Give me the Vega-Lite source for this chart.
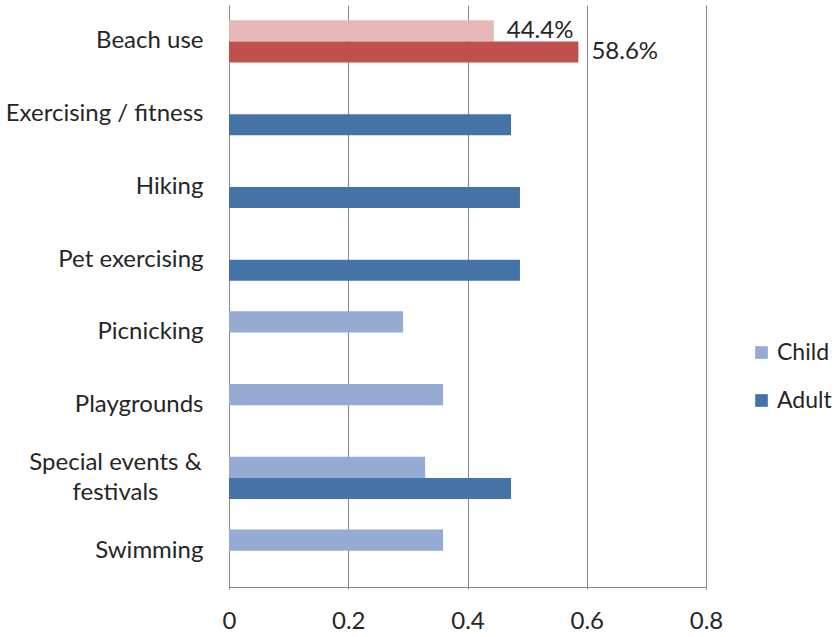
{
  "$schema": "https://vega.github.io/schema/vega-lite/v6.json",
  "autosize": "none",
  "width": 477,
  "height": 582,
  "padding": {"left": 229, "top": 5, "right": 133, "bottom": 50},
  "background": "white",
  "config": {
    "font": "Lato",
    "view": {"stroke": null}
  },
  "data": {
    "values": [
      {"activity": "Beach use", "group": "Child", "series": "Beach Child", "value": 0.444},
      {"activity": "Beach use", "group": "Adult", "series": "Beach Adult", "value": 0.586},
      {"activity": "Exercising / fitness", "group": "Adult", "series": "Adult", "value": 0.473},
      {"activity": "Hiking", "group": "Adult", "series": "Adult", "value": 0.488},
      {"activity": "Pet exercising", "group": "Adult", "series": "Adult", "value": 0.488},
      {"activity": "Picnicking", "group": "Child", "series": "Child", "value": 0.292},
      {"activity": "Playgrounds", "group": "Child", "series": "Child", "value": 0.359},
      {"activity": "Special events & festivals", "group": "Child", "series": "Child", "value": 0.329},
      {"activity": "Special events & festivals", "group": "Adult", "series": "Adult", "value": 0.473},
      {"activity": "Swimming", "group": "Child", "series": "Child", "value": 0.359}
    ]
  },
  "encoding": {
    "y": {
      "field": "activity",
      "type": "nominal",
      "sort": null,
      "title": null,
      "scale": {"paddingInner": 0.42, "paddingOuter": 0.21},
      "axis": {
        "domainColor": "#868686",
        "ticks": false,
        "labelFontSize": 24,
        "labelColor": "#262626",
        "labelLineHeight": 30,
        "labelAlign": {"condition": {"test": "datum.value == 'Special events & festivals'", "value": "center"}, "value": "right"},
        "labelPadding": {"condition": {"test": "datum.value == 'Special events & festivals'", "value": 114}, "value": 26},
        "labelOffset": {"condition": {"test": "datum.value == 'Special events & festivals'", "value": -15}, "value": 0},
        "labelExpr": "datum.value == 'Special events & festivals' ? ['Special events &', 'festivals'] : datum.label",
        "labelLimit": 300
      }
    },
    "yOffset": {"field": "group", "type": "nominal", "scale": {"domain": ["Child", "Adult"], "paddingInner": 0}},
    "x": {
      "field": "value",
      "type": "quantitative",
      "title": null,
      "scale": {"domain": [0, 0.8], "nice": false},
      "axis": {
        "values": [0, 0.2, 0.4, 0.6, 0.8],
        "labelExpr": "datum.value == 0 ? '0' : format(datum.value, '.1f')",
        "labelFlush": false,
        "grid": true,
        "gridColor": "#868686",
        "domainColor": "#868686",
        "tickColor": "#868686",
        "tickSize": 2,
        "labelFontSize": 24,
        "labelColor": "#262626",
        "labelPadding": 20
      }
    }
  },
  "layer": [
    {
      "mark": {"type": "bar"},
      "encoding": {
        "color": {
          "field": "series",
          "type": "nominal",
          "scale": {"domain": ["Child", "Adult", "Beach Child", "Beach Adult"], "range": ["#95ABD3", "#4573A8", "#E6B9B8", "#C0504D"]},
          "legend": {
            "title": null,
            "values": ["Child", "Adult"],
            "orient": "none",
            "legendX": 521,
            "legendY": 336,
            "symbolType": "square",
            "symbolSize": 160,
            "symbolStrokeWidth": 0,
            "labelFontSize": 23,
            "labelColor": "#262626",
            "labelOffset": 4,
            "rowPadding": 24
          }
        }
      }
    },
    {
      "transform": [{"filter": "datum.activity == 'Beach use'"}],
      "mark": {"type": "text", "align": "left", "baseline": "middle", "dx": 13, "fontSize": 24, "color": "#262626"},
      "encoding": {
        "text": {"field": "value", "type": "quantitative", "format": ".1%"}
      }
    }
  ]
}
